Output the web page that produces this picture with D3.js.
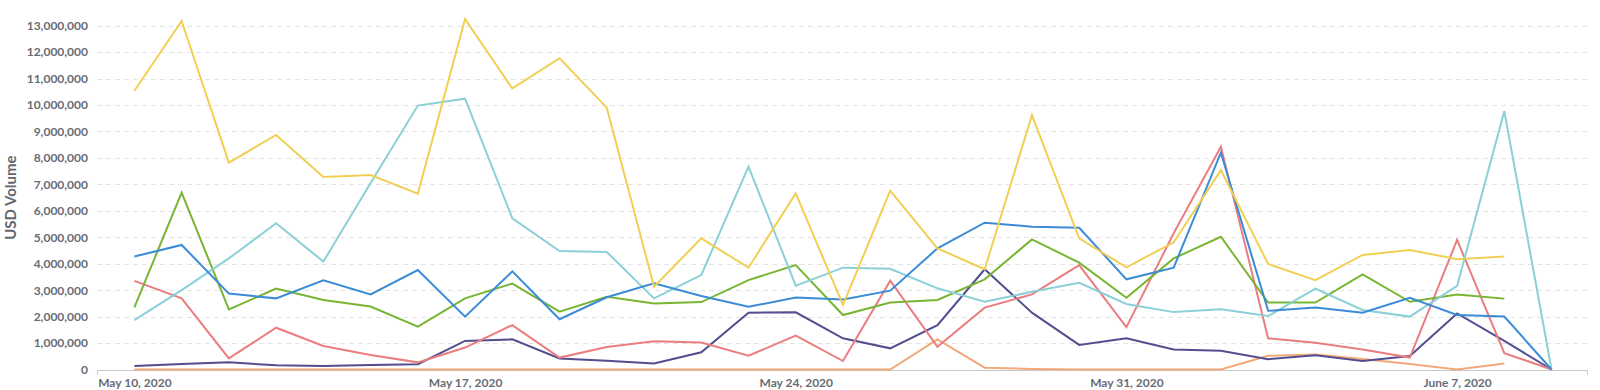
<!DOCTYPE html>
<html>
<head>
<meta charset="utf-8">
<script src="https://cdnjs.cloudflare.com/ajax/libs/d3/7.8.5/d3.min.js"></script>
<style>
    body { margin: 0; background: #fff; }
    .chart text { font-family: Lato, "Open Sans", sans-serif; }
</style>
</head>
<body>
<div id="chart"></div>
<script>
// days on the x axis
var days = ["2020-05-10","2020-05-11","2020-05-12","2020-05-13","2020-05-14","2020-05-15","2020-05-16",
            "2020-05-17","2020-05-18","2020-05-19","2020-05-20","2020-05-21","2020-05-22","2020-05-23",
            "2020-05-24","2020-05-25","2020-05-26","2020-05-27","2020-05-28","2020-05-29","2020-05-30",
            "2020-05-31","2020-06-01","2020-06-02","2020-06-03","2020-06-04","2020-06-05","2020-06-06",
            "2020-06-07","2020-06-08","2020-06-09"];

var tickDays   = ["2020-05-10","2020-05-17","2020-05-24","2020-05-31","2020-06-07"];
var tickLabels = ["May 10, 2020","May 17, 2020","May 24, 2020","May 31, 2020","June 7, 2020"];
var yTicks = [0,1e6,2e6,3e6,4e6,5e6,6e6,7e6,8e6,9e6,10e6,11e6,12e6,13e6];

// USD volume per series, in millions (null = no value that day)
var orangeVals = [0,0,0,0,0,0,0,0,0,0,0,0,0,0,0,0,0,1.14,0.07,0.02,0,0,0,0,0.52,0.57,0.40,0.21,0,0.23,null];
var purpleVals = [0.13,0.21,0.27,0.16,0.13,0.17,0.20,1.08,1.14,0.42,0.33,0.23,0.65,2.15,2.16,1.18,0.80,1.68,3.79,2.15,0.93,1.18,0.76,0.71,0.39,0.54,0.32,0.51,2.12,1.08,0];
var redVals    = [3.35,2.69,0.42,1.58,0.89,0.55,0.27,0.83,1.68,0.45,0.85,1.07,1.02,0.52,1.28,0.32,3.36,0.86,2.34,2.84,3.95,1.60,5.15,8.42,1.18,1.01,0.76,0.45,4.90,0.62,0];
var greenVals  = [2.35,6.69,2.27,3.06,2.63,2.38,1.62,2.69,3.25,2.19,2.75,2.50,2.55,3.38,3.95,2.06,2.53,2.63,3.41,4.92,4.04,2.71,4.20,5.02,2.53,2.53,3.60,2.56,2.84,2.68,null];
var cyanVals   = [1.87,3.00,4.20,5.53,4.08,7.05,9.98,10.24,5.72,4.48,4.44,2.69,3.57,7.67,3.17,3.85,3.81,3.07,2.56,2.94,3.28,2.48,2.17,2.28,2.02,3.06,2.25,2.00,3.16,9.77,0];
var blueVals   = [4.27,4.71,2.87,2.69,3.37,2.84,3.76,2.00,3.71,1.90,2.73,3.26,2.78,2.37,2.72,2.65,2.98,4.58,5.55,5.40,5.36,3.41,3.85,8.20,2.22,2.34,2.15,2.71,2.06,2.00,0];
var yellowVals = [10.54,13.18,7.82,8.87,7.28,7.35,6.65,13.25,10.63,11.77,9.90,3.13,4.96,3.85,6.66,2.44,6.76,4.58,3.79,9.62,4.96,3.86,4.81,7.54,3.99,3.38,4.33,4.52,4.17,4.27,null];

var seriesColors = ["#f3a878", "#524e8f", "#ea7d80", "#77b532", "#8ad0d6", "#3b8bd6", "#f1cf55"];

function buildSeries()
{
    var parse = d3.timeParse("%Y-%m-%d");
    var all = [orangeVals, purpleVals, redVals, greenVals, cyanVals, blueVals, yellowVals];
    var out = [];
    for (var s = 0; s < all.length; s++) {
        var pts = [];
        for (var i = 0; i < days.length; i++) {
            pts.push({ date: parse(days[i]), value: all[s][i] == null ? null : all[s][i] * 1e6 });
        }
        out.push({ color: seriesColors[s], points: pts });
    }
    return out;
}

function volumeChart(id, width, height)
{
    var parse = d3.timeParse("%Y-%m-%d");
    var data = buildSeries();
    var first = parse(days[0]);
    var last = parse(days[days.length - 1]);

    var svg = d3.select(id).append("svg")
        .attr("width", width)
        .attr("height", height)
        .attr("class", "chart");

    // a bit of room either side of the first and last day
    var x = d3.scaleTime()
        .domain([d3.timeHour.offset(first, -18.5), d3.timeHour.offset(last, 18)])
        .range([97, 1587]);

    var y = d3.scaleLinear()
        .domain([0, 13e6])
        .range([369.5, 25.7]);

    // dashed grid
    svg.append("g")
        .selectAll("line")
        .data(yTicks.slice(1))
        .enter().append("line")
        .attr("x1", 97)
        .attr("x2", 1590)
        .attr("y1", function(d) { return Math.round(y(d)) + 0.5; })
        .attr("y2", function(d) { return Math.round(y(d)) + 0.5; })
        .attr("stroke", "#e4e4e4")
        .attr("stroke-dasharray", "5,4");

    var yAxis = svg.append("g")
        .attr("transform", "translate(97,0)")
        .call(d3.axisLeft(y)
            .tickValues(yTicks)
            .tickSize(0)
            .tickPadding(9)
            .tickFormat(d3.format(",")));
    yAxis.select(".domain").remove();
    yAxis.selectAll("text")
        .attr("fill", "#686c74")
        .attr("font-size", "12px")
        .attr("font-weight", "bold")
        .attr("font-family", "Lato, sans-serif");

    var xAxis = svg.append("g")
        .attr("transform", "translate(0,370)")
        .call(d3.axisBottom(x)
            .tickValues(tickDays.map(parse))
            .tickSizeInner(0)
            .tickSizeOuter(5)
            .tickPadding(8)
            .tickFormat(function(d, i) { return tickLabels[i]; }));
    xAxis.select(".domain").attr("stroke", "#c8c8c8");
    xAxis.selectAll("text")
        .attr("fill", "#686c74")
        .attr("font-size", "12px")
        .attr("font-weight", "bold")
        .attr("font-family", "Lato, sans-serif");

    svg.append("text")
        .attr("transform", "translate(16," + ((y(0) + y(13e6)) / 2) + ") rotate(-90)")
        .attr("text-anchor", "middle")
        .attr("fill", "#62666e")
        .attr("font-size", "15px")
        .attr("font-weight", "bold")
        .attr("font-family", "Lato, sans-serif")
        .text("USD Volume");

    var line = d3.line()
        .defined(function(d) { return d.value != null; })
        .x(function(d) { return x(d.date); })
        .y(function(d) { return y(d.value); });

    svg.append("g")
        .selectAll("path")
        .data(data)
        .enter().append("path")
        .attr("fill", "none")
        .attr("stroke", function(d) { return d.color; })
        .attr("stroke-width", 2)
        .attr("stroke-linejoin", "miter")
        .attr("d", function(d) { return line(d.points); });
}

volumeChart("#chart", 1600, 390);
</script>
</body>
</html>
